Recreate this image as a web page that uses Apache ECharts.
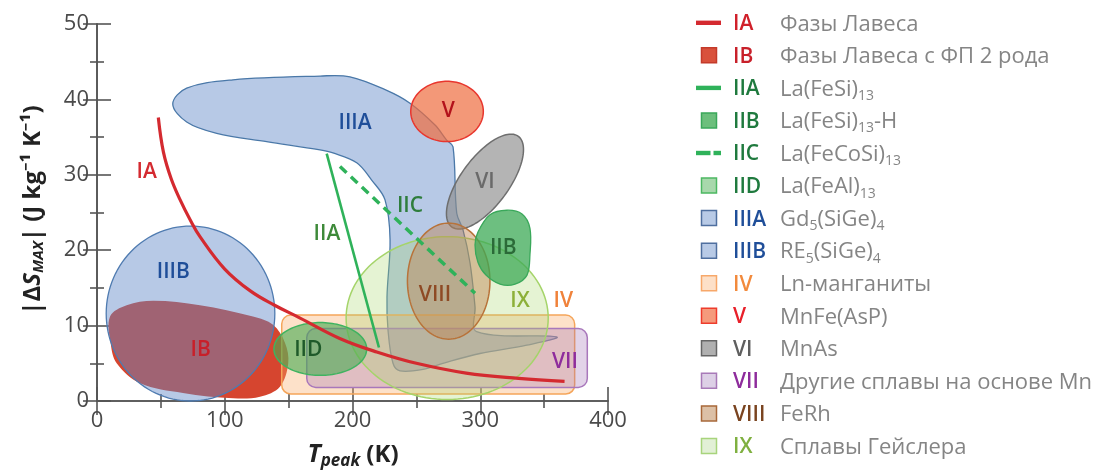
<!DOCTYPE html>
<html><head><meta charset="utf-8">
<script src="https://cdn.jsdelivr.net/npm/echarts@6/dist/echarts.min.js"></script>
<style>html,body{margin:0;padding:0;background:#fff}#c{width:1093px;height:475px}</style>
</head><body><div id="c"></div>
<script>
// ---------- DATA (T_peak in K, |dS_max| in J kg-1 K-1) ----------
const xTicks = [0, 100, 200, 300, 400];
const yTicks = [0, 10, 20, 30, 40, 50];

// lines
const lineIA  = [[48,37.6],[52,33],[58,29.5],[65,26.7],[73,24],[80.6,21.8],[100,17.5],[120,14.6],[139,12.7],[159,11],[190,8.3],[219,6.5],[250,5],[289,3.7],[330,3],[366,2.6]];
const lineIIA = [[179.8,32.8],[220.7,7.1]];
const lineIIC = [[190.2,31.1],[295.9,14.3]];

// free-form regions (outline points)
const regionIB = [[10.7,7.65],[10.2,11.2],[23.2,12.7],[44.1,13.3],[80.6,12.7],[122.1,11.2],[137.8,10.1],[147.2,7.7],[149.7,5.0],[143.2,1.9],[127.6,0.57],[106.5,0.36],[67.3,1.06],[33.7,2.35],[15.4,5.0]];
const regionIIIA = [[59.3,39.4],[70.2,41.5],[106.5,42.6],[174.6,43.1],[198,43.0],[226.8,41.2],[245,39.5],[264.6,36.6],[273.7,34.6],[278.7,33.7],[281.6,24.9],[286.5,22.7],[292,18.3],[295.9,12.5],[297.2,9.2],[359.8,8.5],[336.4,7.4],[299.8,6.3],[270.8,5.0],[255.2,4.2],[237.2,4.0],[231.7,5.0],[227.8,9.4],[227,13.8],[229.4,21.4],[225.4,26.7],[215,29.3],[203.3,31.6],[184.7,32.9],[174.6,33.3],[132.8,34.4],[93.7,35.5],[70.2,37.0]];
const regionIIB = [[298.2,22.4],[307.6,24.7],[320.9,25.3],[332.7,24.8],[338.9,22.9],[338.9,19.4],[336.6,16.7],[327.2,15.5],[315.5,15.5],[304.5,16.7],[298.2,18.4],[295.9,20.7]];

// ellipses: [cx, cy, a_x, a_y, b_x, b_y] (centre + conjugate semi-axes)
const ellipseIIIB = [73.2, 11.6, 66, 0, 0, 11.6];
const ellipseV    = [274, 38.4, 28.4, 0, 0, 4.0];
const ellipseVI   = [303.7, 29.1, 26.1, 6.0, 15.1, -1.9];
const ellipseVIII = [275.3, 15.9, 32.3, 0, 0, 7.7];
const ellipseIX   = [274.1, 11.0, 79.1, 0, 0, 10.8];
const ellipseIID  = [174.8, 6.9, 36.3, 0, 0, 3.5];

// rounded bands: [xmin, ymin, xmax, ymax]
const bandIV  = [144.6, 0.93, 373.9, 11.4];
const bandVII = [164.2, 1.8, 383.8, 9.6];

// region labels
const labelNames = ['IA','IB','IIIB','IIIA','V','VI','IIC','IIA','IIB','VIII','IX','IV','VII','IID'];
const labelX     = [38.9, 81.2, 59.7, 202, 275, 303.7, 245, 180, 318, 264.6, 331.1, 365, 366.3, 165.4];
const labelY     = [30.4, 6.8, 17.1, 36.9, 38.4, 29.1, 25.8, 22.1, 20.3, 14.1, 13.2, 13.2, 5.2, 6.8];

// legend
const legendCodes = ['IA','IB','IIA','IIB','IIC','IID','IIIA','IIIB','IV','V','VI','VII','VIII','IX'];
const legendTexts = ['Фазы Лавеса','Фазы Лавеса с ФП 2 рода','La(FeSi){s|13}','La(FeSi){s|13}-H','La(FeCoSi){s|13}','La(FeAl){s|13}','Gd{s|5}(SiGe){s|4}','RE{s|5}(SiGe){s|4}','Ln-манганиты','MnFe(AsP)','MnAs','Другие сплавы на основе Mn','FeRh','Сплавы Гейслера'];

// ---------- STYLES ----------
const FONT = '"Open Sans", "Noto Sans", sans-serif';
const labelColors = {IA:'#d42a30',IB:'#c8202a',IIIB:'#1f4e99',IIIA:'#1f4e99',V:'#b3121b',VI:'#6a6a6a',IIC:'#2e7d3c',IIA:'#3e8a3a',IIB:'#2b6a38',VIII:'#8e4a24',IX:'#8cb038',IV:'#f0823a',VII:'#8e2c9c',IID:'#1f5a2a'};
const legendStyle = {
  IA:{line:'#d42a30',code:'#d0202a'},
  IB:{fill:'#d9513c',stroke:'#c43a2a',code:'#c8202a'},
  IIA:{line:'#2fb25a',code:'#1f7a3e'},
  IIB:{fill:'#6cbf7c',stroke:'#3aa85a',code:'#1f7a3e'},
  IIC:{dash:'#2fb25a',code:'#1f7a3e'},
  IID:{fill:'#a8d8ac',stroke:'#4cb862',code:'#1f7a3e'},
  IIIA:{fill:'#b8cae6',stroke:'#4f6f9f',code:'#1f4e99'},
  IIIB:{fill:'#b8cae6',stroke:'#4f6f9f',code:'#1f4e99'},
  IV:{fill:'#fde0c8',stroke:'#f7a86a',code:'#f28a3c'},
  V:{fill:'#f59a7c',stroke:'#ee3c2c',code:'#e8202a'},
  VI:{fill:'#b0b0b0',stroke:'#666666',code:'#5f5f5f'},
  VII:{fill:'#ddd0e6',stroke:'#a87ab8',code:'#8e2c9c'},
  VIII:{fill:'#dcc0a6',stroke:'#a8683a',code:'#7a4420'},
  IX:{fill:'#e2f0d6',stroke:'#a8d47c',code:'#7fb040'}
};

function ellipsePoints(api, e) {
  const pts = [];
  for (let i = 0; i < 120; i++) {
    const t = i / 120 * 2 * Math.PI, c = Math.cos(t), s = Math.sin(t);
    pts.push(api.coord([e[0] + e[2]*c + e[4]*s, e[1] + e[3]*c + e[5]*s]));
  }
  return pts;
}
function regionSeries(name, kind, geom, style, z) {
  return {
    type: 'custom', name: name, coordinateSystem: 'cartesian2d', z: z, silent: true,
    data: kind === 'poly' ? geom : [geom],
    encode: {x: 0, y: 1},
    renderItem: function (params, api) {
      if (params.dataIndex !== 0) return null;
      if (kind === 'poly') {
        return {type: 'polygon', shape: {points: geom.map(p => api.coord(p)), smooth: 0.35}, style: style};
      } else if (kind === 'ellipse') {
        return {type: 'polygon', shape: {points: ellipsePoints(api, geom)}, style: style};
      } else {
        const a = api.coord([geom[0], geom[3]]), b = api.coord([geom[2], geom[1]]);
        return {type: 'rect', shape: {x: a[0], y: a[1], width: b[0]-a[0], height: b[1]-a[1], r: 9}, style: style};
      }
    }
  };
}

const series = [
  regionSeries('IB', 'poly', regionIB, {fill: '#d6452f'}, 1),
  regionSeries('IIIB', 'ellipse', ellipseIIIB, {fill: 'rgba(95,135,199,0.45)', stroke: '#4f7bb0', lineWidth: 1.3}, 2),
  regionSeries('IIIA', 'poly', regionIIIA, {fill: 'rgba(111,147,205,0.5)', stroke: '#4a78a8', lineWidth: 1.3}, 3),
  regionSeries('V', 'ellipse', ellipseV, {fill: 'rgba(238,108,63,0.7)', stroke: '#e8362e', lineWidth: 1.5}, 4),
  regionSeries('VI', 'ellipse', ellipseVI, {fill: 'rgba(140,140,140,0.65)', stroke: '#6e6e6e', lineWidth: 1.5}, 5),
  regionSeries('IV', 'band', bandIV, {fill: 'rgba(250,170,100,0.35)', stroke: '#f5a55a', lineWidth: 1.5}, 6),
  regionSeries('VII', 'band', bandVII, {fill: 'rgba(160,110,180,0.3)', stroke: '#a877bb', lineWidth: 1.5}, 7),
  regionSeries('IX', 'ellipse', ellipseIX, {fill: 'rgba(170,215,110,0.3)', stroke: '#a5d46a', lineWidth: 1.5}, 8),
  regionSeries('VIII', 'ellipse', ellipseVIII, {fill: 'rgba(190,130,80,0.45)', stroke: '#b8733a', lineWidth: 1.5}, 9),
  regionSeries('IIB', 'poly', regionIIB, {fill: 'rgba(60,170,85,0.75)', stroke: '#3aa85a', lineWidth: 1.3}, 10),
  regionSeries('IID', 'ellipse', ellipseIID, {fill: 'rgba(70,170,80,0.6)', stroke: '#3fb360', lineWidth: 1.5}, 11),
  {type: 'line', name: 'IA', data: lineIA, smooth: 0.4, symbol: 'none', z: 12, silent: true,
   lineStyle: {color: '#d42a30', width: 3.2}},
  {type: 'line', name: 'IIA', data: lineIIA, symbol: 'none', z: 13, silent: true,
   lineStyle: {color: '#2fb25a', width: 2.6}},
  {type: 'line', name: 'IIC', data: lineIIC, symbol: 'none', z: 13, silent: true,
   lineStyle: {color: '#2fb25a', width: 3.5, type: [9, 6]}},
  {type: 'custom', name: 'labels', coordinateSystem: 'cartesian2d', z: 20, silent: true,
   data: labelNames.map((n, i) => [labelX[i], labelY[i], n]),
   encode: {x: 0, y: 1},
   renderItem: function (params, api) {
     const p = api.coord([api.value(0), api.value(1)]);
     const n = labelNames[params.dataIndex];
     return {type: 'text', x: p[0], y: p[1], style: {text: n, fill: labelColors[n],
       font: '600 21px ' + FONT, align: 'center', verticalAlign: 'middle', textAlign: 'center', textVerticalAlign: 'middle'}};
   }}
];

// legend as graphic elements
const graphics = [];
legendCodes.forEach(function (code, i) {
  const cy = 22.8 + i * 32.55;
  const st = legendStyle[code];
  if (st.line) {
    graphics.push({type: 'rect', shape: {x: 696, y: cy - 2.2, width: 25, height: 4.4}, style: {fill: st.line}});
  } else if (st.dash) {
    graphics.push({type: 'rect', shape: {x: 696, y: cy - 2.2, width: 14.5, height: 4.4}, style: {fill: st.dash}});
    graphics.push({type: 'rect', shape: {x: 713.5, y: cy - 2.2, width: 7.5, height: 4.4}, style: {fill: st.dash}});
  } else {
    graphics.push({type: 'rect', shape: {x: 701.5, y: cy - 7.5, width: 15, height: 15}, style: {fill: st.fill, stroke: st.stroke, lineWidth: 1.5}});
  }
  graphics.push({type: 'text', x: 733, y: cy + 1.5, style: {text: code, fill: st.code, font: '600 21px ' + FONT, align: 'left', verticalAlign: 'middle'}});
  graphics.push({type: 'text', x: 780, y: cy + 1.5, style: {text: legendTexts[i], fill: '#858585', font: '22px ' + FONT, align: 'left', verticalAlign: 'middle',
    rich: {s: {fontSize: 14, fontFamily: FONT, fill: '#858585', padding: [13, 0, 0, 0]}}}});
});
// axis titles
graphics.push({type: 'text', x: 33, y: 210, rotation: Math.PI / 2,
  style: {text: '|Δ{i|S}{s|MAX}| (J kg⁻¹ K⁻¹)', fill: '#222', font: 'bold 24px ' + FONT, align: 'center', verticalAlign: 'middle',
    rich: {i: {fontSize: 24, fontWeight: 'bold', fontStyle: 'italic', fontFamily: FONT, fill: '#222'},
           s: {fontSize: 15, fontWeight: 'bold', fontStyle: 'italic', fontFamily: FONT, fill: '#222', padding: [11, 0, 0, 0]}}}});
graphics.push({type: 'text', x: 353, y: 455,
  style: {text: '{t|T}{s|peak}{n| (K)}', fill: '#222', font: 'bold 24px ' + FONT, align: 'center', verticalAlign: 'middle',
    rich: {t: {fontSize: 25, fontWeight: 'bold', fontStyle: 'italic', fontFamily: FONT, fill: '#222'},
           s: {fontSize: 17, fontWeight: 'bold', fontStyle: 'italic', fontFamily: FONT, fill: '#222', padding: [13, 0, 0, 0]},
           n: {fontSize: 24, fontWeight: 'bold', fontFamily: FONT, fill: '#222'}}}});

const axisCommon = {
  axisLine: {show: true, lineStyle: {color: '#555555', width: 1.6}},
  axisTick: {show: true, inside: true, length: 14, lineStyle: {color: '#555555', width: 1.6}},
  minorTick: {show: true, splitNumber: 2, length: 7, lineStyle: {color: '#555555', width: 1.6}},
  splitLine: {show: false}, minorSplitLine: {show: false}
};
const option = {
  animation: false,
  backgroundColor: '#fff',
  grid: {left: 97, right: 485, top: 24, bottom: 74, containLabel: false},
  xAxis: [
    Object.assign({type: 'value', min: xTicks[0], max: xTicks[xTicks.length-1], interval: xTicks[1]-xTicks[0], position: 'bottom',
      axisLabel: {color: '#4a4a4a', fontSize: 22, fontFamily: FONT, margin: 9}}, axisCommon),
    Object.assign({type: 'value', min: xTicks[0], max: xTicks[xTicks.length-1], interval: xTicks[1]-xTicks[0], position: 'top',
      axisLabel: {show: false}}, axisCommon)
  ],
  yAxis: [
    Object.assign({type: 'value', min: yTicks[0], max: yTicks[yTicks.length-1], interval: yTicks[1]-yTicks[0], position: 'left',
      axisLabel: {color: '#4a4a4a', fontSize: 22, fontFamily: FONT, margin: 8}}, axisCommon),
    Object.assign({type: 'value', min: yTicks[0], max: yTicks[yTicks.length-1], interval: yTicks[1]-yTicks[0], position: 'right',
      axisLabel: {show: false}}, axisCommon)
  ],
  series: series,
  graphic: graphics
};
const chart = echarts.init(document.getElementById('c'));
chart.setOption(option);
</script>
</body></html>
